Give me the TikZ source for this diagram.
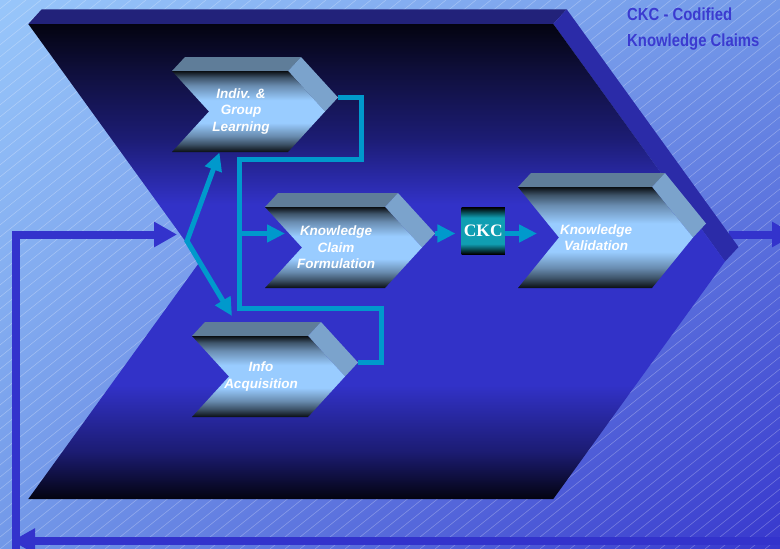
\documentclass[tikz,border=0pt]{standalone}
\usepackage{fontspec}
\usetikzlibrary{arrows.meta,shadings}

\newfontfamily\labelfont{Liberation Sans}
\newfontfamily\narrowfont[FakeStretch=0.85]{Liberation Sans}
\newfontfamily\boxfont{Liberation Serif}

\definecolor{bgtopleft}{RGB}{152,198,250}
\definecolor{bgmid}{RGB}{114,152,232}
\definecolor{bglowright}{RGB}{55,55,205}
\definecolor{bigtop}{RGB}{34,34,122}
\definecolor{bigside}{RGB}{43,43,168}
\definecolor{bigdark}{RGB}{3,3,16}
\definecolor{bigdim}{RGB}{15,15,60}
\definecolor{bigmid}{RGB}{28,28,115}
\definecolor{biglight}{RGB}{50,50,200}
\definecolor{chevtop}{RGB}{95,125,153}
\definecolor{chevside}{RGB}{123,163,204}
\definecolor{cfdark}{RGB}{10,14,18}
\definecolor{cfmid}{RGB}{62,84,106}
\definecolor{cfsoft}{RGB}{105,140,176}
\definecolor{cflight}{RGB}{153,204,255}
\definecolor{flowcyan}{RGB}{0,153,204}
\definecolor{loopblue}{RGB}{51,51,204}
\definecolor{ckcteal}{RGB}{16,158,178}
\definecolor{notetext}{RGB}{59,59,208}

% vertical shadings (bottom to top)
\pgfdeclareverticalshading{bigface}{100bp}{color(0bp)=(bigdark); color(25bp)=(bigdark); color(30bp)=(bigmid); color(37bp)=(biglight); color(44bp)=(biglight); color(56bp)=(biglight); color(63bp)=(bigmid); color(70bp)=(bigdim); color(75bp)=(bigdark); color(100bp)=(bigdark)}
\pgfdeclareverticalshading{chevface}{100bp}{color(0bp)=(cfdark); color(25bp)=(cfdark); color(30bp)=(cfmid); color(35bp)=(cfsoft); color(43bp)=(cflight); color(57bp)=(cflight); color(66bp)=(cfsoft); color(71bp)=(cfmid); color(75bp)=(cfdark); color(100bp)=(cfdark)}
\pgfdeclareverticalshading{ckcface}{100bp}{color(0bp)=(black); color(25bp)=(black); color(36bp)=(ckcteal); color(64bp)=(ckcteal); color(75bp)=(black); color(100bp)=(black)}

\tikzset{
  hatch/.style={white, opacity=0.3, line width=0.5pt},
  loophead/.tip={Triangle[length=23pt,width=24pt]},
  flowhead/.tip={Triangle[length=18pt,width=17pt]},
  loopline/.style={loopblue, line width=8pt, -loophead},
  flow/.style={flowcyan, line width=5pt},
  chevlabel/.style={text=white, align=center, inner sep=0pt,
    font=\labelfont\bfseries\itshape\fontsize{13.5}{16.5}\selectfont},
  ckcbox/.style={minimum width=43.3pt, minimum height=46.7pt, inner sep=0pt,
    shading=ckcface, text=white,
    font=\boxfont\bfseries\fontsize{17.5}{20}\selectfont},
  notelabel/.style={text=notetext, align=left, inner sep=0pt,
    font=\narrowfont\bfseries\fontsize{17.5}{26}\selectfont}
}

% name, x, y, width, height, tip depth
\newcommand{\kmchevron}[6]{%
  \fill[chevtop] (#2,#3) -- (#2+13,#3-14) -- (#2+#4+13,#3-14) -- (#2+#4,#3) -- cycle;
  \fill[chevside] (#2+#4,#3) -- (#2+#4+13,#3-14) -- (#2+#4+#6+13,#3+#5/2-14) -- (#2+#4+#6,#3+#5/2) -- cycle;
  \shade[shading=chevface] (#2,#3) -- (#2+#4,#3) -- (#2+#4+#6,#3+#5/2) -- (#2+#4,#3+#5) -- (#2,#3+#5) -- (#2+#6,#3+#5/2) -- cycle;
  \coordinate (#1-tip) at (#2+#4+#6+13,#3+#5/2-14);
  \coordinate (#1-mid) at (#2+#4/2+11,#3+#5/2);
}

\begin{document}
\begin{tikzpicture}[x=1pt,y=-1pt]
  \useasboundingbox (0,0) rectangle (780,549);
  \clip (0,0) rectangle (780,549);

  % Background
  \shade[upper left=bgtopleft, upper right=bgmid, lower left=bgmid, lower right=bglowright] (0,0) rectangle (780,549);
  \foreach \i in {-690,-675,...,780} {
    \draw[hatch] (\i,549) -- ++(686,-549);
  }

  % Outer loop
  \coordinate (loop-start) at (16,560);
  \coordinate (loop-corner) at (16,234.5);
  \coordinate (loop-in) at (177,234.5);
  \coordinate (loop-out) at (729,234.5);
  \coordinate (loop-edge) at (795,234.5);
  \coordinate (loop-back) at (800,541);
  \coordinate (loop-end) at (12,541);
  \draw[loopline] (loop-start) -- (loop-corner) -- (loop-in);
  \draw[loopline] (loop-out) -- (loop-edge);
  \draw[loopline] (loop-back) -- (loop-end);

  % Big chevron
  \fill[bigtop] (28.3,24) -- (41.7,9.3) -- (566.7,9.3) -- (553.3,24) -- cycle;
  \fill[bigside] (553.3,24) -- (566.7,9.3) -- (738.5,247) -- (725,261.5) -- cycle;
  \shade[shading=bigface] (28.3,24) -- (553.3,24) -- (725,261.5) -- (553.3,499) -- (28.3,499) -- (200,261.5) -- cycle;

  % Process chevrons
  \kmchevron{learn}{172}{71}{116}{81}{37}
  \kmchevron{acq}{192}{336}{116}{81}{37}
  \kmchevron{form}{265}{207}{120}{81}{37}
  \kmchevron{valid}{518}{187}{134}{101}{41}

  \node[chevlabel] (learn-text) at (learn-mid) {Indiv. \&\\Group\\Learning};
  \node[chevlabel] (acq-text) at (acq-mid) {Info\\Acquisition};
  \node[chevlabel] (form-text) at (form-mid) {Knowledge\\Claim\\Formulation};
  \node[chevlabel] (valid-text) at (valid-mid) {Knowledge\\Validation};

  \node[ckcbox] (ckc) at (483.3,230.7) {CKC};

  % Flows
  \coordinate (split) at (187,241);
  \coordinate (learn-foot) at (219.5,152.5);
  \coordinate (acq-head) at (232,316);
  \coordinate (bend-a) at (361.5,159.5);
  \coordinate (bend-b) at (239.5,308);
  \coordinate (bend-c) at (381.5,362.5);
  \coordinate (branch) at (239.5,233.5);
  \coordinate (form-in) at (285,233.5);
  \coordinate (valid-in) at (537,233.5);
  \draw[flow, flowhead-flowhead] (learn-foot) -- (split) -- (acq-head);
  \draw[flow] (learn-tip) -| (bend-a) -| (bend-b) -| (bend-c) -- (acq-tip);
  \draw[flow, -flowhead] (branch) -- (form-in);
  \draw[flow, -flowhead] (form-tip) -- ([xshift=-6pt]form-tip -| ckc.west);
  \draw[flow, -flowhead] (ckc.east |- valid-in) -- (valid-in);

  % Note
  \node[notelabel, anchor=north west] (note) at (627,8) {CKC - Codified\\Knowledge Claims};
\end{tikzpicture}
\end{document}
